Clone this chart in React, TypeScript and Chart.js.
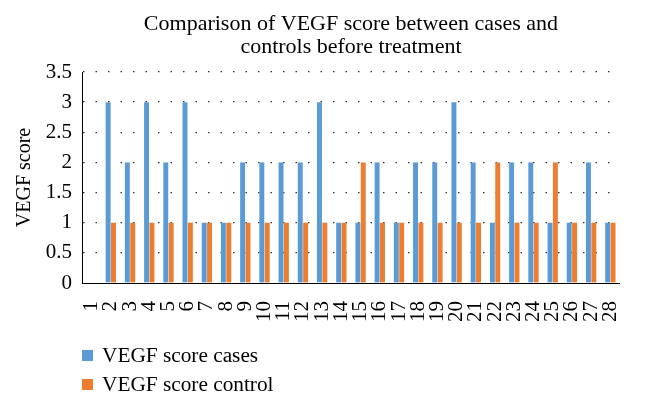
import React, { useEffect, useRef } from "react";
import { Chart, registerables } from "chart.js";

Chart.register(...registerables);

const categories: string[] = [
  "1", "2", "3", "4", "5", "6", "7", "8", "9", "10", "11", "12", "13", "14",
  "15", "16", "17", "18", "19", "20", "21", "22", "23", "24", "25", "26", "27", "28",
];
const casesScores: (number | null)[] = [
  null, 3, 2, 3, 2, 3, 1, 1, 2, 2, 2, 2, 3, 1,
  1, 2, 1, 2, 2, 3, 2, 1, 2, 2, 1, 1, 2, 1,
];
const controlScores: (number | null)[] = [
  null, 1, 1, 1, 1, 1, 1, 1, 1, 1, 1, 1, 1, 1,
  2, 1, 1, 1, 1, 1, 1, 2, 1, 1, 2, 1, 1, 1,
];
const seriesNames = ["VEGF score cases", "VEGF score control"];
const seriesColors = ["#5B9BD5", "#ED7D31"];
const titleLines = ["Comparison of VEGF score between cases and", "controls before treatment"];
const yAxisTitle = "VEGF score";

const FONT = "'Liberation Serif', 'Times New Roman', serif";

const stackedLegend = {
  id: "stackedLegend",
  afterDraw(chart: any) {
    const ctx = chart.ctx;
    ctx.save();
    ctx.font = `21.3px ${FONT}`;
    ctx.textBaseline = "middle";
    ctx.textAlign = "left";
    chart.data.datasets.forEach((ds: any, i: number) => {
      const cy = 355.5 + i * 29;
      ctx.fillStyle = ds.backgroundColor;
      ctx.fillRect(82, cy - 5.5, 11, 11);
      ctx.fillStyle = "#000";
      ctx.fillText(ds.label, 102, cy + 1);
    });
    ctx.restore();
  },
};

export default function App() {
  const ref = useRef<HTMLCanvasElement | null>(null);

  useEffect(() => {
    if (!ref.current) return;
    const chart = new Chart(ref.current, {
      type: "bar",
      data: {
        labels: categories,
        datasets: [
          {
            label: seriesNames[0],
            data: casesScores,
            backgroundColor: seriesColors[0],
            categoryPercentage: 0.56,
            barPercentage: 0.92,
          },
          {
            label: seriesNames[1],
            data: controlScores,
            backgroundColor: seriesColors[1],
            categoryPercentage: 0.56,
            barPercentage: 0.92,
          },
        ],
      },
      options: {
        responsive: false,
        animation: false,
        layout: { padding: { left: 0, right: 14, top: 0, bottom: 70 } },
        plugins: {
          legend: { display: false },
          tooltip: { enabled: false },
          title: {
            display: true,
            fullSize: false,
            text: titleLines,
            color: "#000",
            font: { family: FONT, size: 22, weight: "normal", lineHeight: 1.05 },
            padding: { top: 12.5, bottom: 13.3 },
          },
        },
        scales: {
          x: {
            grid: { display: false },
            border: { display: true, color: "#000", width: 1 },
            ticks: {
              color: "#000",
              font: { family: FONT, size: 21 },
              minRotation: 90,
              maxRotation: 90,
              autoSkip: false,
              padding: 10,
            },
            afterFit(scale: any) {
              scale.height = 404 - 70 - 283;
            },
          },
          y: {
            min: 0,
            max: 3.5,
            ticks: {
              stepSize: 0.5,
              color: "#000",
              font: { family: FONT, size: 21 },
              padding: 10,
              callback: (v: any) => `${Number(v)}`,
            },
            grid: {
              drawTicks: false,
              color: (c: any) => (c.tick && c.tick.value === 0 ? "rgba(0,0,0,0)" : "rgba(30,30,30,0.9)"),
              lineWidth: 1.3,
            },
            border: { display: true, color: "#000", width: 1, dash: [1.5, 11] },
            title: {
              display: true,
              text: yAxisTitle,
              color: "#000",
              font: { family: FONT, size: 20 },
              padding: { top: 13, bottom: 0 },
            },
            afterFit(scale: any) {
              scale.width = 82;
            },
          },
        },
      },
      plugins: [stackedLegend],
    });
    return () => chart.destroy();
  }, []);

  return (
    <div style={{ position: "fixed", left: 0, top: 0, width: 646, height: 404, background: "#fff" }}>
      <canvas ref={ref} width={646} height={404} style={{ display: "block" }} />
    </div>
  );
}
